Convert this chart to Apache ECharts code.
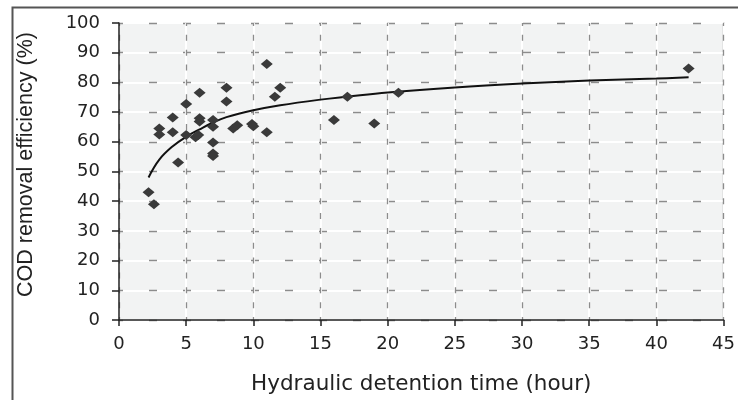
<!DOCTYPE html>
<html>
<head>
<meta charset="utf-8">
<script src="https://cdn.jsdelivr.net/npm/echarts@6/dist/echarts.min.js"></script>
<style>
html,body{margin:0;padding:0;background:#fff;}
#chart{width:738px;height:400px;}
</style>
</head>
<body>
<div id="chart"></div>
<script>
// Observed data: hydraulic detention time (hour) vs COD removal efficiency (%)
const hdtHours = [2.2, 2.6, 3, 3, 4, 4, 4.4, 5, 5, 5.7, 5.9, 6, 6, 6, 7, 7, 7, 7, 7, 8, 8, 8.5, 8.8, 9.9, 10, 11, 11, 11.6, 12, 16, 17, 19, 20.8, 42.4];
const codRemoval = [43, 39, 64.5, 62.5, 68.2, 63.2, 53, 72.7, 62.3, 61.5, 62.3, 76.5, 67.9, 66.8, 67.3, 65.1, 59.8, 56.1, 55.2, 78.2, 73.6, 64.5, 65.6, 66, 65.2, 86.2, 63.2, 75.2, 78.2, 67.3, 75.2, 66.2, 76.5, 84.7];
// Trend curve
const trendX = [2.2, 3, 4, 5, 6, 7, 8, 10, 12, 15, 17, 20, 25, 30, 35, 40, 42.4];
const trendY = [48, 54, 58.5, 61.7, 64.2, 66.5, 68.3, 70.6, 72.3, 74.2, 75.2, 76.6, 78.3, 79.6, 80.6, 81.3, 81.7];
// Axis ticks
const xTicks = [0, 5, 10, 15, 20, 25, 30, 35, 40, 45];
const yTicks = [0, 10, 20, 30, 40, 50, 60, 70, 80, 90, 100];
const xTitle = 'Hydraulic detention time (hour)';
const yTitle = 'COD removal efficiency (%)';

const points = hdtHours.map((x, i) => [x, codRemoval[i]]);
const trend = trendX.map((x, i) => [x, trendY[i]]);

const wideFont = 'DejaVu Sans, Verdana, sans-serif';
const narrowFont = 'Liberation Sans, Arial, Helvetica, sans-serif';
const chart = echarts.init(document.getElementById('chart'), null, {renderer: 'canvas'});

const xMin = xTicks[0], xMax = xTicks[xTicks.length - 1], xInt = xTicks[1] - xTicks[0];
const yMin = yTicks[0], yMax = yTicks[yTicks.length - 1], yInt = yTicks[1] - yTicks[0];

chart.setOption({
  animation: false,
  backgroundColor: '#fff',
  graphic: [{
    type: 'rect', left: 10, top: 5, z: -10,
    shape: {width: 800, height: 500},
    style: {fill: 'none', stroke: '#555', lineWidth: 2}
  }],
  grid: {left: 119, top: 23, right: 6, bottom: 80, show: true, backgroundColor: '#f2f3f3', borderColor: '#aaa', borderWidth: 1.5},
  xAxis: [{
    type: 'value', min: xMin, max: xMax, interval: xInt,
    name: xTitle, nameLocation: 'middle', nameGap: 53,
    nameTextStyle: {fontFamily: wideFont, fontSize: 21.5, color: '#222'},
    axisLine: {show: true, onZero: false, lineStyle: {color: '#222', width: 1.5}},
    axisTick: {show: true, length: 6, lineStyle: {color: '#222', width: 1.5}},
    axisLabel: {fontFamily: wideFont, fontSize: 18, color: '#222', margin: 15},
    splitLine: {show: true, lineStyle: {color: '#ffffff', width: 2}}
  }, {
    type: 'value', min: xMin, max: xMax, interval: xInt, position: 'bottom',
    axisLine: {show: false}, axisTick: {show: false}, axisLabel: {show: false},
    splitLine: {show: true, lineStyle: {color: '#8c8c8c', width: 1.3, type: [6, 8.85], dashOffset: 3}}
  }],
  yAxis: [{
    type: 'value', min: yMin, max: yMax, interval: yInt,
    name: yTitle, nameLocation: 'middle', nameGap: 82, nameRotate: 90,
    nameTextStyle: {fontFamily: narrowFont, fontSize: 21.5, color: '#222', padding: [0, 0, 0, 14]},
    axisLine: {show: true, onZero: false, lineStyle: {color: '#222', width: 1.5}},
    axisTick: {show: true, length: 7, lineStyle: {color: '#222', width: 1.5}},
    axisLabel: {fontFamily: wideFont, fontSize: 18, color: '#222', margin: 19},
    splitLine: {show: true, lineStyle: {color: '#ffffff', width: 2}}
  }, {
    type: 'value', min: yMin, max: yMax, interval: yInt, position: 'left',
    axisLine: {show: false}, axisTick: {show: false}, axisLabel: {show: false},
    splitLine: {show: true, lineStyle: {color: '#8c8c8c', width: 1.3, type: [8, 26], dashOffset: 4}}
  }],
  series: [{
    type: 'line', data: trend, smooth: 0.4, showSymbol: false, symbol: 'none',
    lineStyle: {color: '#111', width: 2}, z: 3
  }, {
    type: 'scatter', data: points, symbol: 'diamond', symbolSize: [12, 10],
    itemStyle: {color: '#3a3a3a', opacity: 1}, z: 4
  }]
});
</script>
</body>
</html>
